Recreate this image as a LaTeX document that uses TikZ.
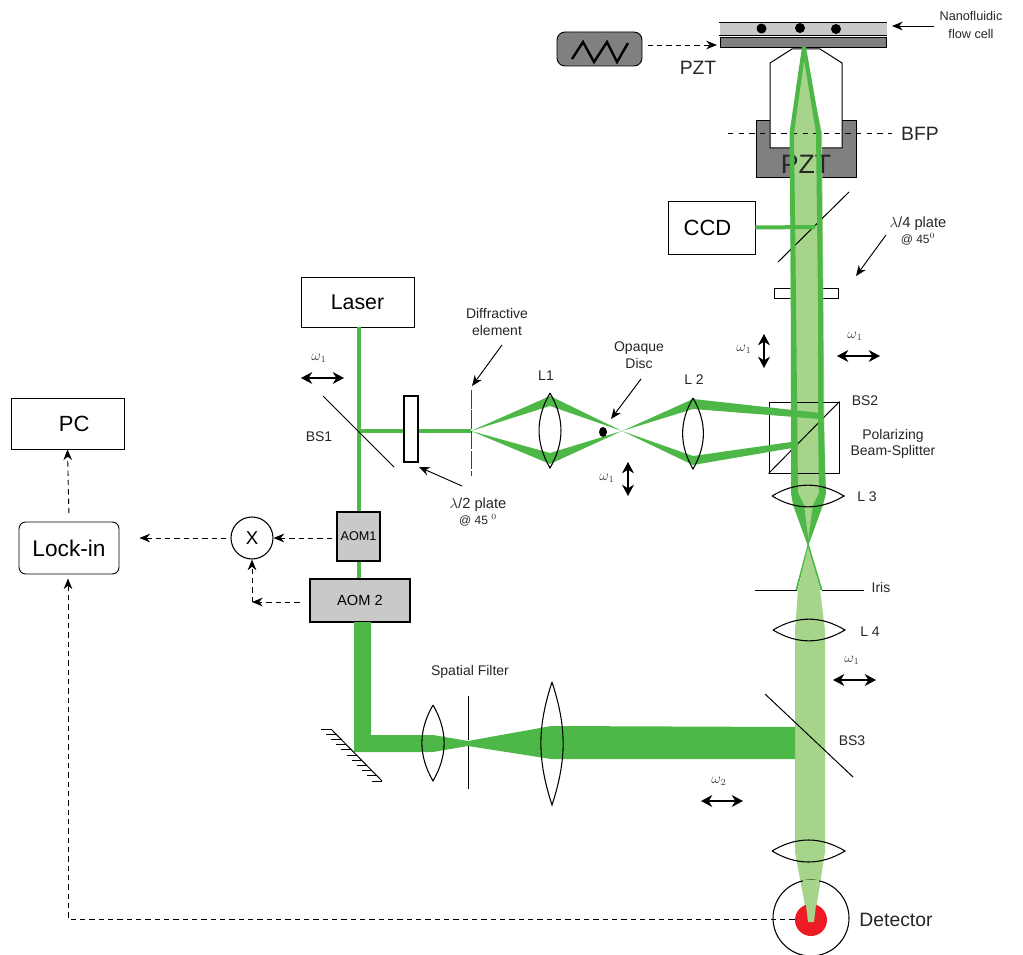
\documentclass[tikz,border=0pt]{standalone}
\usepackage{fontspec}
\setmainfont{Liberation Sans}
\usepackage{xcolor}
\usetikzlibrary{arrows.meta, calc}
\definecolor{beamdark}{HTML}{4DB848}
\definecolor{beamlight}{HTML}{A5D48A}
\definecolor{pztgray}{HTML}{808080}
\definecolor{aomgray}{HTML}{C9C9C9}
\definecolor{spotred}{HTML}{ED1C24}
\definecolor{omegagray}{HTML}{444444}
\begin{document}
\begin{tikzpicture}[x=.75pt, y=-.75pt, font=\fontsize{10.5pt}{12.5pt}\selectfont,
    box/.style={draw, fill=white, inner sep=0pt, align=center, line width=.7pt},
    aom/.style={box, fill=aomgray, line width=1.6pt},
    lbl/.style={inner sep=0pt, align=center, text=black!85},
    big/.style={lbl, font=\fontsize{14.5pt}{17pt}\selectfont},
    omega/.style={inner sep=0pt, text=omegagray, font=\fontsize{10.5pt}{12pt}\selectfont},
    beam/.style={fill=beamdark, draw=none},
    ray/.style={draw=beamdark, line width=3pt},
    lens/.style={draw, line width=.8pt},
    optic/.style={draw, line width=.75pt},
    arr/.style={-{Stealth[length=8pt,width=6.5pt]}, line width=.7pt},
    dasharr/.style={arr, dashed, dash pattern=on 4pt off 3pt},
    pol/.style={{Stealth[length=8.5pt,width=9pt]}-{Stealth[length=8.5pt,width=9pt]}, line width=.8pt}]
  \useasboundingbox (0,0) rectangle (1023,955);
  % sample stage
  \node[box, fill=aomgray, draw=none, minimum width=167*.75pt, minimum height=12*.75pt] (cell) at (803,29) {};
  \draw[optic] (cell.north west) -- (cell.north east);
  \draw[optic] (cell.south west) -- (cell.south east);
  \node[box, fill=pztgray, minimum width=166*.75pt, minimum height=10*.75pt] (cellbase) at (803,42) {};
  \foreach \px/\py in {761.5/28.5, 800/28, 836/29}
    \fill (\px,\py) circle (5);
  \node[box, fill=pztgray, rounded corners=6pt, minimum width=85*.75pt, minimum height=34*.75pt] (zigbox) at (599.5,49) {};
  \draw[line width=1.8pt] (572,59) -- (583,42) -- (594,62) -- (607,42) -- (617,62) -- (628,43);
  \draw[dasharr, shorten <=4pt, shorten >=2pt] ([yshift=3pt]zigbox.east) -- ([yshift=-2.25pt]cellbase.west);
  \node[big] (pztsmall) at (698,68) {PZT};
  % objective
  \node[box, fill=pztgray, minimum width=100*.75pt, minimum height=57*.75pt] (pztholder) at (806,148.5) {};
  \draw[optic, fill=white] (770,148) -- (770,63) -- (792,49) -- (820,49) -- (842,63) -- (842,148) -- cycle;
  \node[box, minimum width=64*.75pt, minimum height=10*.75pt] (quarter) at (806,293) {};
  % collected light
  \fill[beamlight] (804,50) -- (790,133) -- (791,493) -- (808,545) -- (798,590) -- (795,630) -- (795,852)
    -- (808,922) -- (814,922) -- (825,852) -- (825,630) -- (820,590) -- (808,545) -- (825,493) -- (822,133) -- cycle;
  \node[lbl, font=\fontsize{20pt}{24pt}\selectfont] (pztbig) at (806,164) {PZT};
  \draw[dashed, dash pattern=on 4pt off 4pt, line width=.7pt] (728,133) -- (892,133);
  \node[big] (bfp) at (920,134) {BFP};
  \draw[optic] (849,192) -- (778,262);
  \node[box, minimum width=87*.75pt, minimum height=53*.75pt, font=\fontsize{16.5pt}{20pt}\selectfont] (ccd) at (711.5,227.5) {\hspace*{-6pt}CCD};
  \coordinate (ccdmirror) at (815,227);
  \draw[ray] (ccd.east) -- (ccdmirror);
  % polarizing cube
  \node[box, fill=none, minimum width=70*.75pt, minimum height=71*.75pt] (bstwo) at (804,437.5) {};
  \draw[optic] (bstwo.south west) -- (bstwo.north east);
  % excitation path
  \node[box, minimum width=113*.75pt, minimum height=50*.75pt, font=\fontsize{16pt}{19pt}\selectfont] (laser) at (357.5,302) {Laser};
  \node[aom, minimum width=43*.75pt, minimum height=49*.75pt, font=\fontsize{9.5pt}{11pt}\selectfont] (aomone) at (358.5,536.5) {AOM1};
  \node[aom, minimum width=100*.75pt, minimum height=43*.75pt, font=\fontsize{11pt}{13pt}\selectfont] (aomtwo) at (360,600.5) {AOM 2};
  \coordinate (bsone) at (359,431);
  \coordinate (grating) at (471,431);
  \draw[ray] (laser.south -| bsone) -- (bsone) -- (aomone.north -| bsone);
  \draw[ray] (aomone.south -| bsone) -- (aomtwo.north -| bsone);
  \draw[ray] (bsone) -- (grating);
  \draw[optic] (323,396) -- (394,467);
  \node[box, line width=1.6pt, minimum width=14*.75pt, minimum height=66*.75pt] (halfplate) at (411,429) {};
  \draw[line width=.6pt, black!75, dash pattern=on 14pt off 1.2pt] (471,390) -- (471,476);
  \fill[beam] (471,431) -- (550,396) -- (622,431) -- (550,406) -- cycle;
  \fill[beam] (471,431) -- (550,464) -- (622,431) -- (550,453) -- cycle;
  \fill[beam] (622,431) -- (693,399) -- (820,413) -- (820,419) -- (693,409) -- cycle;
  \fill[beam] (622,431) -- (693,465) -- (798,447) -- (798,441) -- (693,456) -- cycle;
  \fill (603,432) ellipse (4 and 5);
  % beams in the tube
  \fill[beam] (802,47) -- (806,47) -- (794,133) -- (796,300) -- (798,493) -- (804,505) -- (809,545) -- (822.5,590) -- (820.5,590)
    -- (807.5,545) -- (793,505) -- (791,493) -- (791,300) -- (789.5,133) -- cycle;
  \fill[beam] (802,47) -- (806,47) -- (821,133) -- (823,300) -- (823.5,416) -- (826,493) -- (823,505) -- (808.5,545) -- (797.5,590) -- (795.5,590)
    -- (807.5,545) -- (813,505) -- (819,493) -- (818,416) -- (818,300) -- (816,133) -- cycle;
  % reference arm
  \fill[beam] (354,622) -- (371,622) -- (371,735) -- (433,735) -- (468,741) -- (551,726) -- (795,727) -- (795,759) -- (551,759)
    -- (468,746) -- (433,752) -- (354,752) -- cycle;
  \draw[optic] (331,729) -- (382,781);
  \foreach \i in {0,...,10}
    \draw[optic] ({331+5.1*\i},{729+5.2*\i}) -- ++(-10,0);
  \draw[optic] (468,696) -- (468,740);
  \draw[optic] (468,746) -- (468,789);
  \draw[optic] (765,694) -- (853,777);
  % lenses
  \draw[lens] (550,393) to[bend right=30] (550,468) to[bend right=30] (550,393);
  \draw[lens] (693,398) to[bend right=30] (693,469) to[bend right=30] (693,398);
  \draw[lens] (772,496) to[bend left=31] (844,496) to[bend left=31] (772,496);
  \draw[lens] (773,630) to[bend left=31] (845,630) to[bend left=31] (773,630);
  \draw[lens] (433,705) to[bend right=30] (433,781) to[bend right=30] (433,705);
  \draw[lens] (552,682) to[bend right=18] (552,805) to[bend right=18] (552,682);
  \draw[lens] (772,851) to[bend left=31] (845,851) to[bend left=31] (772,851);
  % iris
  \draw[optic] (755,590) -- (797,590);
  \draw[optic] (822,590) -- (864,590);
  % detector
  \node[circle, draw, line width=.8pt, minimum size=76*.75pt, inner sep=0pt] (detector) at (811,918) {};
  \node[circle, fill=spotred, minimum size=32*.75pt, inner sep=0pt] (spot) at (811,920) {};
  \fill[beamlight] (803,880) -- (819,880) -- (814,922) -- (808,922) -- cycle;
  % electronics
  \node[box, minimum width=113*.75pt, minimum height=51*.75pt, font=\fontsize{16.5pt}{20pt}\selectfont] (pc) at (67.5,423.5) {\hspace*{10pt}PC};
  \node[box, rounded corners=5pt, minimum width=100*.75pt, minimum height=52*.75pt, font=\fontsize{17pt}{21pt}\selectfont] (lockin) at (69,548) {Lock-in};
  \node[circle, draw, line width=.8pt, fill=white, minimum size=42*.75pt, inner sep=0pt, font=\fontsize{14pt}{16pt}\selectfont] (mult) at (252,538) {X};
  \coordinate (aomtap) at (252,602);
  \draw[dasharr, shorten <=4pt] (lockin.north) ++(0,-3) -- (pc.south);
  \draw[dasharr, shorten <=3pt, shorten >=15pt] (mult.west) -- (lockin.east |- mult.west);
  \draw[dasharr, shorten <=3pt] (aomone.west |- mult.east) -- (mult.east);
  \draw[dasharr, shorten <=7pt] (aomtwo.west |- aomtap) -- (aomtap);
  \draw[dasharr] (aomtap) -- (mult.south);
  \coordinate (lockinbend) at (68,919);
  \draw[dasharr, shorten >=3pt] (spot.west |- lockinbend) -- (lockinbend) -- (lockinbend |- lockin.south);
  % labels
  \node[lbl, font=\fontsize{9.5pt}{14pt}\selectfont] (celllbl) at (971,25) {Nanofluidic\\flow cell};
  \coordinate (celltip) at (892,26);
  \draw[arr] (934,26) -- (celltip);
  \node[lbl, font=\fontsize{11pt}{13pt}\selectfont] (qlbl) at (918,231) {$\lambda$/4 plate\\[-1pt]{\small @ 45$^{0}$}};
  \coordinate (qtail) at (886,235);
  \coordinate (qtip) at (856,276);
  \draw[arr] (qtail) -- (qtip);
  \node[lbl] (difflbl) at (497,322) {Diffractive\\element};
  \coordinate (dtail) at (502,345);
  \coordinate (dtip) at (472,386);
  \draw[arr] (dtail) -- (dtip);
  \node[lbl] (disclbl) at (639,355.5) {Opaque\\Disc};
  \coordinate (disctail) at (641,379);
  \coordinate (disctip) at (611,419);
  \draw[arr] (disctail) -- (disctip);
  \node[lbl, font=\fontsize{11pt}{13pt}\selectfont] (hlbl) at (478,512) {$\lambda$/2 plate\\[-1pt]{\small @ 45 $^{0}$}};
  \coordinate (htail) at (462,486);
  \coordinate (htip) at (419,467);
  \draw[arr] (htail) -- (htip);
  \node[lbl] (bsonelbl) at (319,437) {BS1};
  \node[lbl] (bstwolbl) at (865,401) {BS2};
  \node[lbl] (pbslbl) at (893,444) {Polarizing\\Beam-Splitter};
  \node[lbl] (bsthreelbl) at (852,741) {BS3};
  \node[lbl] (lonelbl) at (546,376) {L1};
  \node[lbl] (ltwolbl) at (694,380) {L 2};
  \node[lbl] (lthreelbl) at (867,497) {L 3};
  \node[lbl] (lfourlbl) at (870,632) {L 4};
  \node[lbl] (irislbl) at (881,587) {Iris};
  \node[lbl] (filterlbl) at (470,672) {Spatial Filter};
  \node[big] (detlbl) at (896,920) {Detector};
  % polarization marks
  \coordinate (pa) at (301,378); \coordinate (pb) at (344,378);
  \draw[pol] (pa) -- (pb);
  \coordinate (pc1) at (837,356); \coordinate (pd) at (880,356);
  \draw[pol] (pc1) -- (pd);
  \coordinate (pe) at (833,680); \coordinate (pf) at (876,680);
  \draw[pol] (pe) -- (pf);
  \coordinate (pg) at (701,801); \coordinate (ph) at (743,801);
  \draw[pol] (pg) -- (ph);
  \coordinate (pi1) at (764,334); \coordinate (pj) at (764,368);
  \draw[pol] (pi1) -- (pj);
  \coordinate (pk) at (628,462); \coordinate (pl) at (628,496);
  \draw[pol] (pk) -- (pl);
  \node[omega] (wa) at (319,358) {$\omega_1$};
  \node[omega] (wb) at (855,336) {$\omega_1$};
  \node[omega] (wc) at (744,349) {$\omega_1$};
  \node[omega] (wd) at (607,478) {$\omega_1$};
  \node[omega] (we) at (852,660) {$\omega_1$};
  \node[omega] (wf) at (719,781) {$\omega_2$};
\end{tikzpicture}
\end{document}
